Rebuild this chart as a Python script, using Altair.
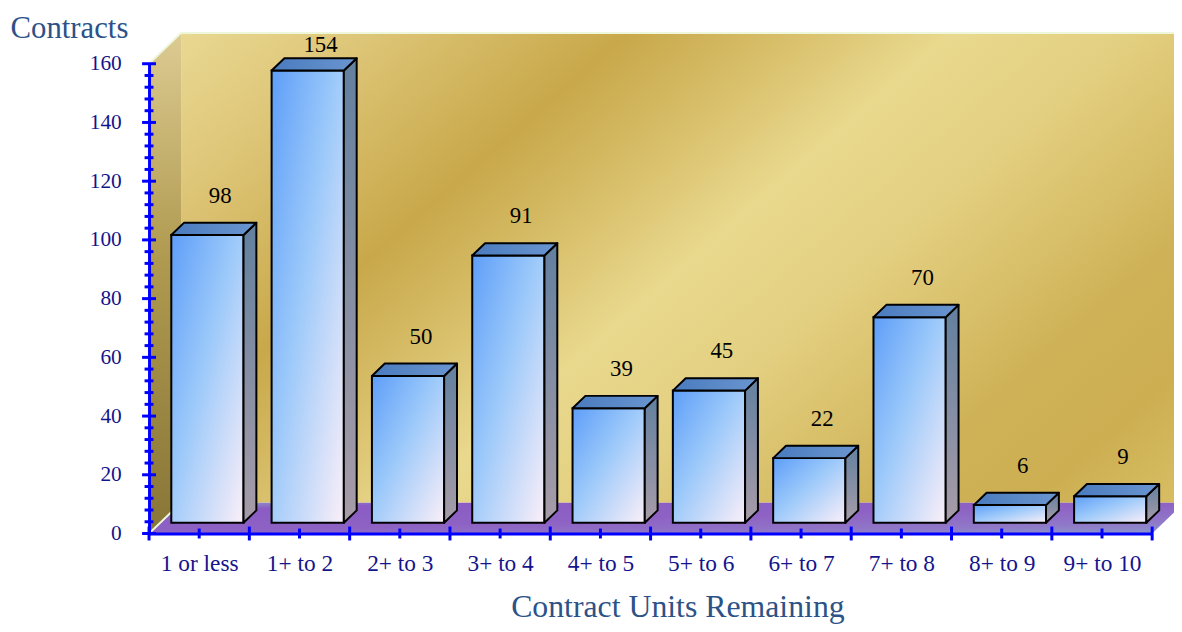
import json
import altair as alt
import pandas as pd

# ---------------- data ----------------
categories = ["1 or less", "1+ to 2", "2+ to 3", "3+ to 4", "4+ to 5",
              "5+ to 6", "6+ to 7", "7+ to 8", "8+ to 9", "9+ to 10"]
contracts = [98, 154, 50, 91, 39, 45, 22, 70, 6, 9]

y_max = 160
y_major = list(range(0, 161, 20))
y_minor = [v for v in range(0, 161, 4) if v % 20 != 0]

n = len(categories)
x_major = list(range(0, n + 1))
x_centers = [i + 0.5 for i in range(n)]

# ---------------- 3D style constants (data units) ----------------
DX, DY = 0.32, 10.5          # depth of the box (category widths, contract units)
FR, BK = 0.35, 0.75          # front / back plane of the bars as fraction of depth
BL, BR = 0.11, 0.83          # bar extent inside a category (front plane)
fx, fy = FR * DX, FR * DY
bx, by = BK * DX, BK * DY

FONT = "Liberation Serif"
AXIS_BLUE = "#0000FF"
LABEL_NAVY = "#14148C"
TITLE_BLUE = "#2C5287"


def grad(stops, x1=0, y1=0, x2=1, y2=1):
    return alt.Gradient(
        gradient="linear",
        stops=[alt.GradientStop(offset=o, color=c) for o, c in stops],
        x1=x1, y1=y1, x2=x2, y2=y2,
    )


gold = grad([(0, "#E9D892"), (0.12, "#DEC678"), (0.29, "#C8A84A"), (0.4, "#D9C06C"),
             (0.5, "#E9D98E"), (0.62, "#E3CF80"), (0.8, "#CFB257"), (0.9, "#CDAF52"),
             (1, "#D8BE64")], 0, 0, 1.193, 0.641)
left_gold = grad([(0, "#DCCB92"), (0.45, "#B09A50"), (1, "#887638")], 0, 0, 0, 1)
floor_grad = grad([(0, "#8EA0C8"), (0.15, "#8A5CC4"), (0.5, "#8E62C4"),
                   (0.8, "#9078C8"), (1, "#8A98CC")])
front_grad = grad([(0, "#5E9EF8"), (0.45, "#9CC9FA"), (1, "#FBEFF8")])
side_grad = grad([(0, "#62809F"), (1, "#A89CA8")], 0, 0, 0, 1)
top_grad = grad([(0, "#4A7BBE"), (1, "#6A96D0")], 0, 0, 1, 0)

xs = alt.Scale(domain=[0, n], nice=False, zero=False)
ys = alt.Scale(domain=[0, y_max], nice=False, zero=False)

# ---------------- tables ----------------
wall_df = pd.DataFrame({"x0": [DX], "x1": [n + DX], "y0": [DY], "y1": [y_max + DY]})
left_df = pd.DataFrame({"x": [0, DX], "lo": [0, DY], "hi": [y_max, y_max + DY]})
floor_df = pd.DataFrame({"y": [0, DY], "xl": [0, DX], "xr": [n, n + DX]})
hl_df = pd.DataFrame({"x0": [0, DX, 0], "y0": [y_max, y_max + DY, 0],
                      "x1": [DX, n + DX + 0.5, DX], "y1": [y_max + DY, y_max + DY, DY]})

front_df = pd.DataFrame({
    "cat": categories,
    "v": contracts,
    "x0": [i + BL + fx for i in range(n)],
    "x1": [i + BR + fx for i in range(n)],
    "y0": [fy] * n,
    "y1": [v + fy for v in contracts],
    "lx": [i + (BL + BR) / 2 + bx for i in range(n)],
    "ly": [min(v + 17, 166.4) for v in contracts],
})

side_rows, top_rows = [], []
for i, v in enumerate(contracts):
    side_rows.append({"bar": i, "x": i + BR + fx, "lo": fy, "hi": v + fy})
    side_rows.append({"bar": i, "x": i + BR + bx, "lo": by, "hi": v + by})
    top_rows.append({"bar": i, "y": v + fy, "xl": i + BL + fx, "xr": i + BR + fx})
    top_rows.append({"bar": i, "y": v + by, "xl": i + BL + bx, "xr": i + BR + bx})
side_df = pd.DataFrame(side_rows)
top_df = pd.DataFrame(top_rows)

xmaj_df = pd.DataFrame({"x": x_major, "y": [0] * len(x_major)})
xmin_df = pd.DataFrame({"x": x_centers, "y": [0] * len(x_centers)})
ymaj_df = pd.DataFrame({"x": [0] * len(y_major), "y": y_major})
ymin_df = pd.DataFrame({"x": [0] * len(y_minor), "y": y_minor})

x_axis = alt.Axis(
    values=x_centers,
    labelExpr=json.dumps(categories) + "[floor(datum.value)]",
    title="Contract Units Remaining", titleFont=FONT, titleFontSize=32,
    titleFontWeight="normal", titleColor=TITLE_BLUE, titleX=532, titleY=84,
    titleAlign="center", titleBaseline="alphabetic",
    labelFont=FONT, labelFontSize=23.5, labelColor=LABEL_NAVY, labelPadding=18,
    labelAngle=0, labelOverlap=False, labelFlush=False, ticks=False, grid=False,
    domainColor=AXIS_BLUE, domainWidth=3, zindex=1)

y_axis = alt.Axis(
    values=y_major,
    title="Contracts", titleFont=FONT, titleFontSize=31, titleFontWeight="normal",
    titleColor=TITLE_BLUE, titleAngle=0, titleAlign="left", titleBaseline="alphabetic",
    titleX=-140, titleY=-26,
    labelFont=FONT, labelFontSize=21.5, labelColor=LABEL_NAVY, labelPadding=28,
    labelFlush=False, labelOverlap=False,
    ticks=False, grid=False, domainColor=AXIS_BLUE, domainWidth=3, zindex=1)

# other layers leave the axis unspecified so that the explicit axes above win
X = lambda f, **kw: alt.X(f, scale=xs, **kw)
Y = lambda f, **kw: alt.Y(f, scale=ys, **kw)

# ---------------- layers ----------------
back_wall = alt.Chart(wall_df).mark_rect(fill=gold).encode(
    x=X("x0:Q", axis=x_axis), x2="x1",
    y=Y("y0:Q", axis=y_axis), y2="y1")

left_wall = alt.Chart(left_df).mark_area(orient="vertical", fill=left_gold).encode(
    x=X("x:Q"), y=Y("lo:Q", stack=None), y2="hi")

floor = alt.Chart(floor_df).mark_area(orient="horizontal", fill=floor_grad).encode(
    y=Y("y:Q"), x=X("xl:Q", stack=None), x2="xr")

highlights = alt.Chart(hl_df).mark_rule(color="#EEF6DC", strokeWidth=2).encode(
    x=X("x0:Q"), x2="x1", y=Y("y0:Q"), y2="y1")

fronts = alt.Chart(front_df).mark_rect(fill=front_grad, stroke="black", strokeWidth=2).encode(
    x=X("x0:Q"), x2="x1", y=Y("y0:Q"), y2="y1")

sides = alt.Chart(side_df).mark_area(orient="vertical", fill=side_grad, stroke="black",
                                     strokeWidth=2, strokeJoin="round").encode(
    x=X("x:Q"), y=Y("lo:Q", stack=None), y2="hi", detail="bar:N")

tops = alt.Chart(top_df).mark_area(orient="horizontal", fill=top_grad, stroke="black",
                                   strokeWidth=2, strokeJoin="round").encode(
    y=Y("y:Q"), x=X("xl:Q", stack=None), x2="xr", detail="bar:N")

x_major_ticks = alt.Chart(xmaj_df).mark_tick(orient="vertical", size=14, thickness=3,
                                             color=AXIS_BLUE, opacity=1).encode(
    x=X("x:Q"), y=Y("y:Q"))

x_minor_ticks = alt.Chart(xmin_df).mark_tick(orient="vertical", size=10, thickness=3,
                                             color=AXIS_BLUE, opacity=1).encode(
    x=X("x:Q"), y=Y("y:Q"))

y_major_ticks = alt.Chart(ymaj_df).mark_tick(orient="horizontal", size=14, thickness=3,
                                             color=AXIS_BLUE, opacity=1).encode(
    x=X("x:Q"), y=Y("y:Q"))

y_minor_ticks = alt.Chart(ymin_df).mark_tick(orient="horizontal", size=9, thickness=3,
                                             color=AXIS_BLUE, opacity=1).encode(
    x=X("x:Q"), y=Y("y:Q"))

value_labels = alt.Chart(front_df).mark_text(font=FONT, fontSize=23, color="black",
                                             baseline="middle", align="center").encode(
    x=X("lx:Q"), y=Y("ly:Q"), text="v:Q")

chart = alt.layer(
    back_wall, left_wall, floor, highlights, fronts, sides, tops,
    x_major_ticks, x_minor_ticks, y_major_ticks, y_minor_ticks, value_labels,
).properties(
    width=1010, height=473,
    padding={"left": 142, "top": 54, "right": 22, "bottom": 89},
    autosize=alt.AutoSizeParams(type="none"),
    background="white",
).configure_view(stroke=None)

chart.save("out.html", embed_options={"renderer": "svg", "actions": False})
